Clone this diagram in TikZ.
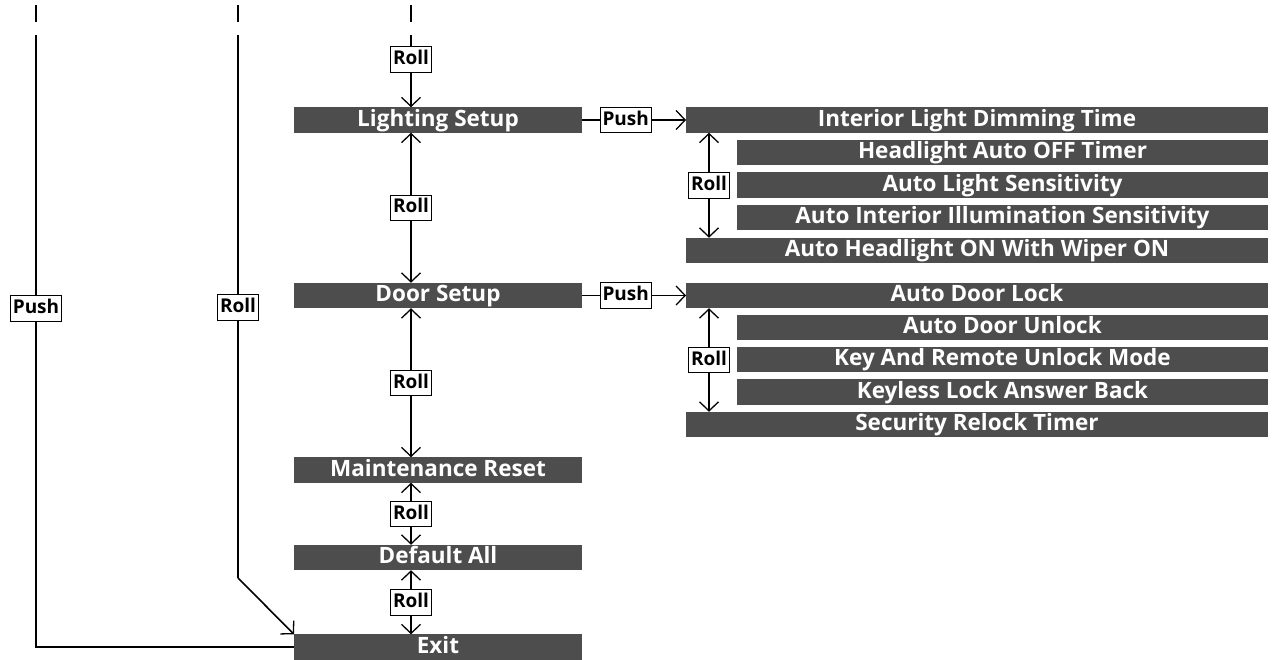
\documentclass[tikz,border=0pt]{standalone}
\usepackage{fontspec}
\setmainfont{Open Sans}
\usetikzlibrary{arrows.meta}
\definecolor{barcol}{RGB}{77,77,77}
\tikzset{
  bar/.style={fill=barcol, text=white, font=\fontsize{22.5}{24}\selectfont\bfseries, minimum height=25.5pt, inner sep=0pt, outer sep=0pt, text height=17pt, text depth=4.5pt},
  mainbar/.style={bar, minimum width=288pt},
  fullbar/.style={bar, minimum width=582pt},
  indbar/.style={bar, minimum width=531pt},
  lbl/.style={draw=black, line width=0.9pt, fill=white, font=\fontsize{19}{20}\selectfont\bfseries, inner xsep=2.5pt, inner ysep=0pt, minimum height=25.5pt, text height=14.5pt, text depth=4pt},
  conn/.style={line width=1.6pt},
  arr/.style={conn, -{Straight Barb[length=9pt,width=19pt,line width=1.3pt]}},
  darr/.style={conn, {Straight Barb[length=9pt,width=19pt,line width=1.3pt]}-{Straight Barb[length=9pt,width=19pt,line width=1.3pt]}},
}
\begin{document}
\begin{tikzpicture}[x=1pt,y=-1pt]
\useasboundingbox (0,0) rectangle (1277,660);
% main column
\node[mainbar] (light) at (438,120) {Lighting Setup};
\node[mainbar] (door) at (438,295.5) {Door Setup};
\node[mainbar] (maint) at (438,470) {Maintenance Reset};
\node[mainbar] (def) at (438,557.5) {Default All};
\node[mainbar] (exit) at (438,647) {Exit};
% lighting submenu
\node[fullbar] (l1) at (977,120) {Interior Light Dimming Time};
\node[indbar] (l2) at (1002.5,152.5) {Headlight Auto OFF Timer};
\node[indbar] (l3) at (1002.5,185) {Auto Light Sensitivity};
\node[indbar] (l4) at (1002.5,217.5) {Auto Interior Illumination Sensitivity};
\node[fullbar] (l5) at (977,250.5) {Auto Headlight ON With Wiper ON};
% door submenu
\node[fullbar] (d1) at (977,295.5) {Auto Door Lock};
\node[indbar] (d2) at (1002.5,327.5) {Auto Door Unlock};
\node[indbar] (d3) at (1002.5,359.5) {Key And Remote Unlock Mode};
\node[indbar] (d4) at (1002.5,392) {Keyless Lock Answer Back};
\node[fullbar] (d5) at (977,424.5) {Security Relock Timer};
% coordinates
\coordinate (cx) at (411,0);
\coordinate (sx) at (709,0);
\coordinate (t1) at (36,35);
\coordinate (t2) at (238,35);
\coordinate (t3) at (411,35);
\coordinate (k1) at (36,5);
\coordinate (k1e) at (36,22);
\coordinate (k2) at (238,5);
\coordinate (k2e) at (238,22);
\coordinate (k3) at (411,5);
\coordinate (k3e) at (411,22);
\coordinate (c1) at (36,647);
\coordinate (c2) at (238,578);
% top ticks
\draw[conn, line width=2pt] (k1) -- (k1e);
\draw[conn, line width=2pt] (k2) -- (k2e);
\draw[conn, line width=2pt] (k3) -- (k3e);
% main column connectors
\draw[arr] (t3) -- node[lbl, pos=0.34] (r0) {Roll} (light.north -| cx);
\draw[darr] (light.south -| cx) -- node[lbl] (r1) {Roll} (door.north -| cx);
\draw[darr] (door.south -| cx) -- node[lbl] (r2) {Roll} (maint.north -| cx);
\draw[darr] (maint.south -| cx) -- node[lbl] (r3) {Roll} (def.north -| cx);
\draw[darr] (def.south -| cx) -- node[lbl] (r4) {Roll} (exit.north -| cx);
% push to submenus
\draw[arr] (light.east) -- node[lbl, pos=0.42] (p1) {Push} (l1.west);
\draw[arr] (door.east) -- node[lbl, pos=0.42] (p2) {Push} (d1.west);
% submenu rolls
\draw[darr] (l1.south -| sx) -- node[lbl] (r5) {Roll} (l5.north -| sx);
\draw[darr] (d1.south -| sx) -- node[lbl] (r6) {Roll} (d5.north -| sx);
% left lines
\draw[conn] (t1) -- node[lbl, pos=0.447] (pl) {Push} (c1) -- (exit.west);
\draw[conn] (t2) -- node[lbl, pos=0.502] (rl) {Roll} (c2);
\draw[arr] (c2) -- (exit.north west);
\end{tikzpicture}
\end{document}
